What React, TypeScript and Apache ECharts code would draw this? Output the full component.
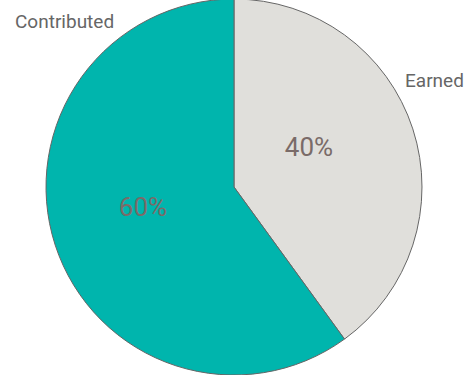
import React, { useEffect, useRef } from "react";
import * as echarts from "echarts";

const categories = ["Earned", "Contributed"];
const values = [40, 60];
const colors = ["#e0dfdb", "#00b5ad"];

const namePos: Record<string, [number, number]> = {
  Earned: [405, 80],
  Contributed: [15, 21],
};
const pctPos: Record<string, [number, number]> = {
  Earned: [309, 147],
  Contributed: [143, 207],
};

export default function App() {
  const ref = useRef<HTMLDivElement>(null);
  useEffect(() => {
    if (!ref.current) return;
    const chart = echarts.init(ref.current, null, { renderer: "svg" });
    const data = categories.map((c, i) => ({
      name: c,
      value: values[i],
      itemStyle: { color: colors[i] },
    }));
    chart.setOption({
      animation: false,
      backgroundColor: "#ffffff",
      series: [
        {
          type: "pie",
          center: [234, 187],
          radius: 188,
          startAngle: 90,
          clockwise: true,
          silent: true,
          data,
          itemStyle: { borderColor: "#666666", borderWidth: 1 },
          label: {
            show: true,
            position: "inside",
            formatter: "{d}%",
            color: "#7a6b68",
            fontSize: 26,
            fontFamily: "Roboto",
          },
          labelLine: { show: false },
          labelLayout: (p: any) => {
            const pos = pctPos[categories[p.dataIndex]];
            return { x: pos[0], y: pos[1], align: "center", verticalAlign: "middle" };
          },
        },
        {
          type: "pie",
          center: [234, 187],
          radius: 188,
          startAngle: 90,
          silent: true,
          data: categories.map((c, i) => ({ name: c, value: values[i] })),
          itemStyle: { color: "rgba(0,0,0,0)", borderWidth: 0 },
          label: {
            show: true,
            position: "inside",
            formatter: "{b}",
            color: "#666666",
            fontSize: 19,
            fontFamily: "Roboto",
          },
          labelLine: { show: false },
          labelLayout: (p: any) => {
            const pos = namePos[categories[p.dataIndex]];
            return { x: pos[0], y: pos[1], align: "left", verticalAlign: "middle" };
          },
        },
      ],
    });
    return () => chart.dispose();
  }, []);
  return (
    <div
      ref={ref}
      style={{ position: "fixed", left: 0, top: 0, width: 473, height: 375 }}
    />
  );
}
